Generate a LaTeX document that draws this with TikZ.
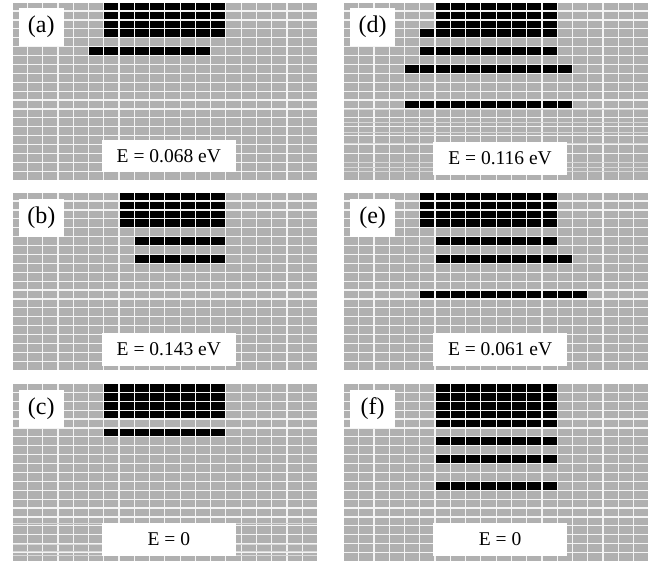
\documentclass[tikz,border=0pt]{standalone}
\usepackage{xcolor}
\usepackage{fontspec}
\setmainfont{Liberation Serif}
\usetikzlibrary{positioning}
\definecolor{cellgray}{RGB}{176,176,176}
\definecolor{gapgray}{RGB}{244,244,244}
\definecolor{bandgray}{RGB}{216,216,216}
\tikzset{
  latticecell/.style={fill=cellgray},
  occupied/.style={fill=black},
  bandline/.style={draw=bandgray, line width=0.9pt},
  panellabel/.style={rectangle, fill=white, align=center, inner sep=0pt,
                     minimum width=44.7pt, minimum height=38pt,
                     font=\fontsize{24}{24}\selectfont},
  energybox/.style={rectangle, fill=white, align=center, inner sep=0pt,
                    minimum width=133.7pt, minimum height=32.5pt,
                    font=\fontsize{19.5}{20}\selectfont},
}
\newcommand{\cellw}{15.27}
\newcommand{\cellh}{8.9}
% one 20 x 20 lattice of gray cells
\newcommand{\drawlattice}{%
  \fill[gapgray] (0,0) rectangle (20*\cellw-1.1,20*\cellh-1.2);
  \foreach \i in {0,...,19}
    \foreach \j in {0,...,19}
      \fill[latticecell] (\i*\cellw,\j*\cellh) rectangle ++(\cellw-1.15,\cellh-1.2);
}
% row, first column, last column
\newcommand{\blackrow}[3]{%
  \foreach \i in {#2,...,#3}
    \fill[occupied] (\i*\cellw,#1*\cellh) rectangle ++(\cellw-1.15,\cellh-1.2);
}
% faint extra lines low in a panel
\newcommand{\bandlines}[1]{%
  \foreach \y in {#1}
    \draw[bandline] (0,\y) -- (20*\cellw-1.1,\y);
}
\begin{document}
\begin{tikzpicture}[x=1pt,y=-1pt]
  \useasboundingbox (0,0) rectangle (651,562);
  % left column
  \begin{scope}[shift={(12.7,2.7)}]
    \drawlattice
    \foreach \r in {0,...,3} {\blackrow{\r}{6}{13}}
    \blackrow{5}{5}{12}
    \node[panellabel] (labela) at (28.6,24.3) {(a)};
    \node[energybox] (energya) at (156.1,153.5) {E = 0.068 eV};
  \end{scope}
  \begin{scope}[shift={(12.7,192.7)}]
    \drawlattice
    \foreach \r in {0,...,3} {\blackrow{\r}{7}{13}}
    \blackrow{5}{8}{13}
    \blackrow{7}{8}{13}
    \node[panellabel] (labelb) at (28.6,25.3) {(b)};
    \node[energybox] (energyb) at (156.1,156.6) {E = 0.143 eV};
  \end{scope}
  \begin{scope}[shift={(12.7,384)}]
    \drawlattice
    \bandlines{139.5,160.5,167,171}
    \foreach \r in {0,...,3} {\blackrow{\r}{6}{13}}
    \blackrow{5}{6}{13}
    \node[panellabel] (labelc) at (28.6,25) {(c)};
    \node[energybox] (energyc) at (156.1,155.3) {E = 0};
  \end{scope}
  % right column
  \begin{scope}[shift={(344,2.7)}]
    \drawlattice
    \bandlines{106.5,119.5,129.5,140.5,159.5,164.5,169}
    \foreach \r in {0,...,2} {\blackrow{\r}{6}{13}}
    \blackrow{3}{5}{13}
    \blackrow{5}{5}{13}
    \blackrow{7}{4}{14}
    \blackrow{11}{4}{14}
    \node[panellabel] (labeld) at (28.6,24.3) {(d)};
    \node[energybox] (energyd) at (156.1,155.8) {E = 0.116 eV};
  \end{scope}
  \begin{scope}[shift={(344,192.7)}]
    \drawlattice
    \foreach \r in {0,...,3} {\blackrow{\r}{5}{13}}
    \blackrow{5}{6}{13}
    \blackrow{7}{6}{14}
    \blackrow{11}{5}{15}
    \node[panellabel] (labele) at (28.6,25.3) {(e)};
    \node[energybox] (energye) at (156.1,156.6) {E = 0.061 eV};
  \end{scope}
  \begin{scope}[shift={(344,384)}]
    \drawlattice
    \foreach \r in {0,...,4} {\blackrow{\r}{6}{13}}
    \blackrow{6}{6}{13}
    \blackrow{8}{6}{13}
    \blackrow{11}{6}{13}
    \node[panellabel] (labelf) at (28.6,25) {(f)};
    \node[energybox] (energyf) at (156.1,155.3) {E = 0};
  \end{scope}
\end{tikzpicture}
\end{document}
